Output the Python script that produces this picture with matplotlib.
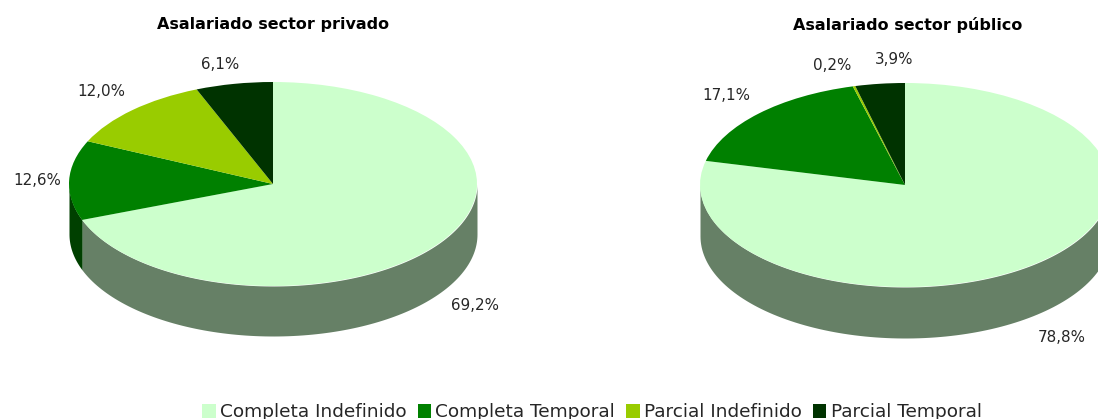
import numpy as np
import matplotlib
matplotlib.use('Agg')
import matplotlib.pyplot as plt
from matplotlib.patches import Patch

W, H = 1098, 419

categories = ['Completa Indefinido', 'Completa Temporal', 'Parcial Indefinido', 'Parcial Temporal']
colors = ['#CCFFCC', '#008000', '#99CC00', '#003300']
side_colors = ['#668066', '#004000', '#4D6600', '#001A00']

privado = [69.2, 12.6, 12.0, 6.1]
publico = [78.8, 17.1, 0.2, 3.9]
privado_labels = ['69,2%', '12,6%', '12,0%', '6,1%']
publico_labels = ['78,8%', '17,1%', '0,2%', '3,9%']

plt.rcParams['font.family'] = ['DejaVu Sans']
text_color = '#262626'

LABEL_SIZE = 10.9
TITLE_SIZE = 11.5

fig = plt.figure(figsize=(W / 100, H / 100), dpi=100)


def pie3d(values, labels, title, cx, cy, rx, ry, depth, label_pos, title_pos):
    ax = fig.add_axes([(cx - rx) / W, 1 - (cy + ry + depth) / H, 2 * rx / W, (2 * ry + depth) / H])
    wedges, _ = ax.pie(values, colors=colors, startangle=90, counterclock=False, radius=1)
    for w in wedges:
        w.set_linewidth(0)
        w.set_clip_on(False)
    ax.set_aspect('auto')
    d = depth / ry
    ax.set_xlim(-1, 1)
    ax.set_ylim(-1 - d, 1)
    ax.axis('off')

    # side wall, only the front half of the rim shows
    total = sum(values)
    start = 0
    for v, c in zip(values, side_colors):
        end = start + v / total * 360
        a = max(start, 90)
        b = min(end, 270)
        if b > a:
            t = np.radians(np.linspace(a, b, 120))
            x = np.sin(t)
            y = np.cos(t)
            ax.fill_between(x, y, y - d, color=c, linewidth=0, clip_on=False, zorder=0)
        start = end

    for s, (px, py) in zip(labels, label_pos):
        fig.text(px / W, 1 - py / H, s, ha='center', va='center', fontsize=LABEL_SIZE, color=text_color)
    fig.text(title_pos[0] / W, 1 - title_pos[1] / H, title, ha='center', va='center',
             fontsize=TITLE_SIZE, fontweight='bold', color='black')


pie3d(privado, privado_labels, 'Asalariado sector privado', 273, 184, 204, 102, 50,
      [(475, 306), (37, 180), (101, 91), (220, 64)], (273, 24))
pie3d(publico, publico_labels, 'Asalariado sector público', 905, 185, 205, 102, 51,
      [(1062, 337), (726, 95), (832, 66), (894, 60)], (908, 25))

handles = [Patch(facecolor=c, edgecolor='none') for c in colors]
fig.legend(handles, categories, ncol=4, loc='lower center', bbox_to_anchor=(592 / W, -2 / H),
           frameon=False, fontsize=13.3, labelcolor=text_color, handlelength=0.72, handleheight=0.8,
           handletextpad=0.22, columnspacing=0.62, borderpad=0, borderaxespad=0)

fig.savefig('out.png', dpi=100)
